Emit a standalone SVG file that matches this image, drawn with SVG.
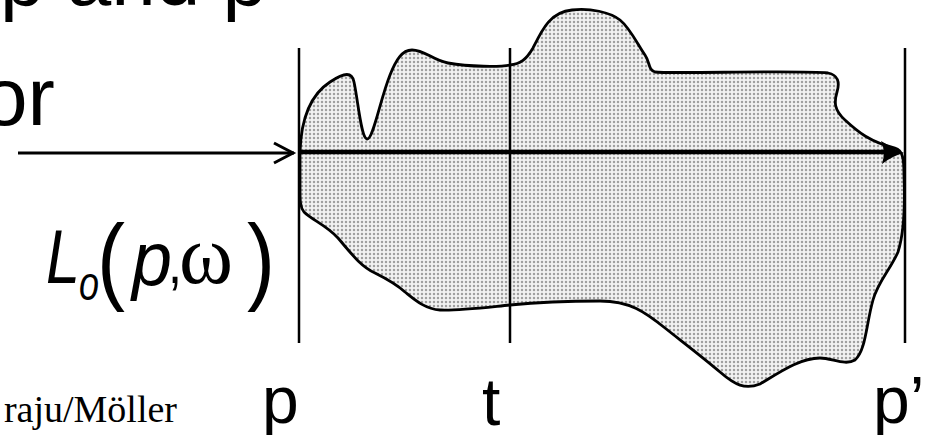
<svg xmlns="http://www.w3.org/2000/svg" width="938" height="435" viewBox="0 0 938 435">
<style>
.sans{font-family:"Liberation Sans",Arial,sans-serif;fill:#000}
.serif{font-family:"Liberation Serif","Times New Roman",serif;fill:#000}
.vline{stroke:#000;stroke-width:2.5;fill:none}
.blob{fill:url(#dots);stroke:#000;stroke-width:2.8;stroke-linejoin:round}
</style>
<defs>
<pattern id="dots" width="4" height="4" patternUnits="userSpaceOnUse">
<rect width="4" height="4" fill="#f2f2f2"/>
<circle cx="2" cy="2" r="1.25" fill="#a0a0a0"/>
</pattern>
</defs>

<g id="text-top">
<text class="sans" x="0" y="5" font-size="80">p and p</text>
<text class="sans" x="-18" y="125" font-size="82">or</text>
</g>

<g id="region">
<path class="blob" d="M300,152 C301,120 310,95 330,82 C345,72 352,72 354,82 C358,100 361,138 367,139 C373,140 380,100 390,75 C396,60 402,50 412,50 C425,50 432,60 448,63 C470,67 500,67 510,65 C520,64 526,60 533,48 C542,30 550,12 572,10 C590,8 610,12 620,20 C630,28 638,45 645,55 C650,62 648,70 655,72 C670,74 800,70 828,73 C838,75 840,82 837,92 C834,102 834,110 845,120 C858,132 870,142 895,148 C903,150 904,160 904,175 C905,200 905,230 898,252 C890,270 878,282 873,300 C866,325 866,350 855,360 C845,366 832,358 820,358 C800,358 780,372 760,384 C745,390 735,385 720,372 C700,355 680,340 665,328 C645,312 630,301 600,301 C570,301 530,303 510,305 C480,308 455,311 440,310 C425,309 415,300 405,292 C395,283 385,278 375,273 C360,266 350,252 338,238 C326,225 312,220 304,212 C300,207 300,200 300,190 Z"/>
</g>

<g id="line-p"><line class="vline" x1="299" y1="48" x2="299" y2="343"/></g>
<g id="line-t"><line class="vline" x1="510" y1="48" x2="510" y2="343"/></g>
<g id="line-p2"><line class="vline" x1="905" y1="48" x2="905" y2="343"/></g>

<g id="connectors">
<line x1="18" y1="153" x2="294" y2="153" stroke="#000" stroke-width="3"/>
<path d="M274,143 L293,153 L274,163" fill="none" stroke="#000" stroke-width="3"/>
<line x1="300" y1="152" x2="886" y2="152" stroke="#000" stroke-width="4.5"/>
<path d="M881,141 Q892,148 904,153 Q892,156 882,164 Q886,152 881,141 Z" fill="#000"/>
</g>

<g id="label-L">
<text class="sans" x="46" y="283" font-size="76" font-style="italic" textLength="34" lengthAdjust="spacingAndGlyphs">L</text>
<text class="sans" x="79" y="300" font-size="48" font-style="italic" textLength="20" lengthAdjust="spacingAndGlyphs">o</text>
<text class="sans" x="97" y="292" font-size="96" textLength="28" lengthAdjust="spacingAndGlyphs">(</text>
<text class="sans" x="132" y="285" font-size="76" font-style="italic" textLength="40" lengthAdjust="spacingAndGlyphs">p</text>
<text class="sans" x="168" y="283" font-size="60" textLength="14" lengthAdjust="spacingAndGlyphs">,</text>
<text class="serif" x="179" y="283" font-size="84" textLength="54" lengthAdjust="spacingAndGlyphs">ω</text>
<text class="sans" x="247" y="292" font-size="96" textLength="28" lengthAdjust="spacingAndGlyphs">)</text>
</g>

<g id="label-p"><text class="sans" x="262" y="423" font-size="66">p</text></g>
<g id="label-t"><text class="sans" x="482" y="425" font-size="66">t</text></g>
<g id="label-p2"><text class="sans" x="873" y="423" font-size="66">p’</text></g>

<g id="footer"><text class="serif" x="177" y="422" font-size="38" text-anchor="end">raju/Möller</text></g>
</svg>
